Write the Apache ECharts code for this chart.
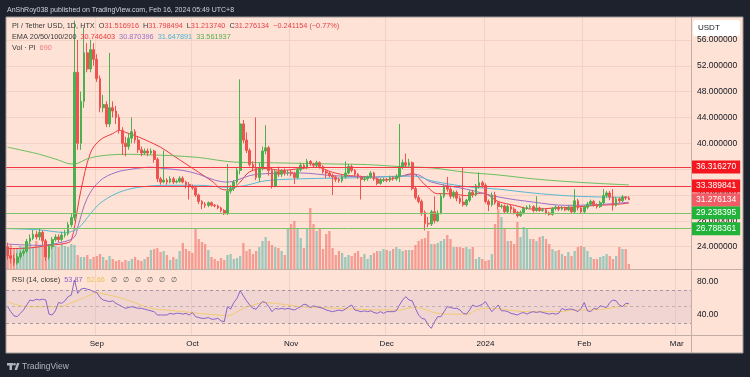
<!DOCTYPE html>
<html>
<head>
<meta charset="utf-8">
<title>PI / Tether USD, 1D</title>
<script src="https://cdn.jsdelivr.net/npm/echarts@6/dist/echarts.min.js"></script>
<style>
  html, body { margin: 0; padding: 0; background: #1e222d; }
  #chart { width: 750px; height: 377px; }
</style>
</head>
<body>
<div id="chart"></div>
<script>
// daily candles from 2023-08-04 to 2024-02-15: [open, close, low, high]
const candles = [
  [24.0, 22.6, 22.0, 24.6], [22.6, 22.2, 21.4, 23.6], [22.2, 21.5, 21.0, 22.8], [21.5, 22.4, 21.2, 23.0],
  [22.4, 23.0, 22.0, 23.4], [23.0, 23.3, 22.6, 23.8], [23.3, 24.8, 23.0, 25.2], [24.8, 25.3, 24.4, 25.9],
  [25.3, 25.9, 25.0, 26.6], [25.9, 25.5, 25.1, 26.4], [25.5, 26.2, 25.0, 26.9], [26.2, 24.9, 24.2, 26.5],
  [24.9, 22.4, 21.8, 25.2], [22.4, 24.0, 22.0, 24.4], [24.0, 25.1, 23.6, 25.5], [25.1, 25.5, 24.8, 25.9],
  [25.5, 25.1, 24.7, 25.9], [25.1, 25.8, 24.8, 26.3], [25.8, 26.0, 25.4, 26.6], [26.0, 27.4, 25.7, 27.8],
  [27.4, 28.5, 27.0, 29.2], [28.5, 51.0, 28.0, 59.0], [51.0, 40.0, 39.0, 56.0], [40.0, 46.5, 39.0, 48.0],
  [46.5, 54.0, 45.5, 58.0], [54.0, 51.5, 51.0, 55.5], [51.5, 54.5, 51.0, 56.0], [54.5, 53.0, 52.0, 55.5],
  // Sep
  [53.0, 50.0, 49.5, 53.8], [50.0, 45.5, 44.8, 50.5], [45.5, 46.0, 44.8, 47.5], [46.0, 43.0, 42.5, 46.5],
  [43.0, 45.5, 42.5, 54.0], [45.5, 45.0, 44.0, 46.5], [45.0, 44.0, 43.0, 45.8], [44.0, 42.0, 41.5, 44.5],
  [42.0, 40.0, 38.2, 42.5], [40.0, 39.5, 38.0, 41.0], [39.5, 40.8, 39.0, 41.5], [40.8, 41.8, 40.0, 44.0],
  [41.8, 40.5, 40.0, 42.2], [40.5, 39.0, 38.5, 41.0], [39.0, 38.5, 38.0, 39.5], [38.5, 38.8, 38.2, 39.2],
  [38.8, 38.5, 38.0, 39.2], [38.5, 38.8, 38.2, 39.2], [38.8, 37.5, 37.0, 39.0], [37.5, 34.5, 34.0, 37.8],
  [34.5, 34.0, 33.6, 34.8], [34.0, 34.3, 33.8, 38.9], [34.3, 34.0, 33.6, 34.6], [34.0, 34.5, 33.8, 34.9],
  [34.5, 34.0, 33.7, 34.8], [34.0, 34.1, 33.8, 34.4], [34.1, 34.6, 33.9, 34.9], [34.6, 34.0, 33.8, 34.9],
  [34.0, 33.6, 33.0, 34.2], [33.6, 33.3, 31.3, 34.0],
  // Oct
  [33.3, 33.1, 32.8, 33.6], [33.1, 32.0, 31.7, 33.3], [32.0, 31.0, 30.6, 32.2], [31.0, 30.6, 29.8, 31.2],
  [30.6, 30.4, 30.0, 30.9], [30.4, 30.8, 30.1, 31.0], [30.8, 30.4, 30.2, 31.0], [30.4, 30.3, 30.1, 30.6],
  [30.3, 30.0, 29.8, 30.5], [30.0, 29.6, 29.3, 30.2], [29.6, 29.1, 28.9, 29.8], [29.1, 32.6, 28.9, 36.8],
  [32.6, 33.0, 32.2, 33.5], [33.0, 34.0, 32.6, 34.3], [34.0, 35.8, 33.6, 36.2], [35.8, 43.0, 35.2, 49.9],
  [43.0, 40.5, 40.0, 43.6], [40.5, 38.9, 38.5, 41.7], [38.9, 36.7, 36.4, 39.2], [36.7, 36.2, 35.8, 37.2],
  [36.2, 34.7, 34.3, 44.0], [34.7, 36.2, 34.0, 37.0], [36.2, 38.8, 35.8, 39.5], [38.8, 39.3, 38.3, 42.8],
  [39.3, 35.8, 35.0, 39.6], [35.8, 33.4, 33.0, 36.3], [33.4, 35.6, 33.2, 36.0], [35.6, 35.2, 34.8, 36.4],
  [35.2, 35.7, 34.8, 36.0], [35.7, 35.4, 35.0, 36.1], [35.4, 35.5, 35.0, 35.9],
  // Nov
  [35.5, 35.3, 34.9, 35.9], [35.3, 34.7, 33.7, 35.6], [34.7, 35.9, 34.5, 36.2], [35.9, 36.6, 35.6, 37.0],
  [36.6, 36.3, 36.0, 36.9], [36.3, 37.2, 36.0, 37.6], [37.2, 36.8, 36.5, 37.4], [36.8, 36.6, 36.3, 37.0],
  [36.6, 37.0, 36.3, 37.3], [37.0, 36.4, 36.1, 37.2], [36.4, 35.6, 35.3, 36.6], [35.6, 35.4, 34.6, 35.9],
  [35.4, 35.0, 34.7, 35.7], [35.0, 34.8, 32.0, 35.3], [34.8, 34.4, 34.0, 35.0], [34.4, 34.2, 33.9, 34.7],
  [34.2, 34.8, 33.9, 35.1], [34.8, 35.4, 34.5, 37.2], [35.4, 36.4, 35.2, 36.8], [36.4, 35.8, 35.5, 36.7],
  [35.8, 35.2, 34.9, 36.0], [35.2, 34.8, 34.5, 35.4], [34.8, 34.4, 31.3, 35.0], [34.4, 34.5, 34.1, 34.8],
  [34.5, 34.8, 34.2, 35.0], [34.8, 35.4, 34.5, 35.7], [35.4, 34.5, 34.2, 35.6], [34.5, 33.8, 33.5, 34.7],
  [33.8, 34.3, 33.6, 34.6], [34.3, 34.4, 34.0, 34.7],
  // Dec
  [34.4, 34.3, 34.0, 34.6], [34.3, 34.7, 34.0, 35.0], [34.7, 34.5, 34.2, 34.9], [34.5, 34.9, 34.2, 35.2],
  [34.9, 36.4, 34.0, 43.0], [36.4, 37.0, 36.0, 37.5], [37.0, 36.6, 36.3, 38.4], [36.6, 37.0, 36.4, 37.6],
  [37.0, 33.0, 32.7, 37.2], [33.0, 31.6, 31.3, 33.4], [31.6, 31.0, 30.7, 32.0], [31.0, 29.3, 28.8, 31.3],
  [29.3, 27.6, 26.5, 29.6], [27.6, 27.5, 27.0, 28.6], [27.5, 29.4, 27.2, 29.7], [29.4, 28.0, 27.6, 31.8],
  [28.0, 29.2, 27.8, 29.6], [29.2, 31.8, 29.0, 32.2], [31.8, 33.3, 31.5, 33.6], [33.3, 32.9, 32.5, 34.8],
  [32.9, 31.8, 31.4, 33.2], [31.8, 32.4, 31.5, 32.7], [32.4, 31.5, 31.0, 32.7], [31.5, 30.9, 30.6, 31.8],
  [30.9, 30.5, 30.2, 36.3], [30.5, 31.2, 30.2, 31.4], [31.2, 32.4, 30.9, 32.7], [32.4, 32.0, 31.6, 32.8],
  [32.0, 33.4, 31.8, 33.7], [33.4, 33.9, 33.0, 35.5], [33.9, 33.5, 33.1, 34.2],
  // Jan
  [33.5, 31.0, 30.7, 33.8], [31.0, 30.5, 29.5, 31.3], [30.5, 32.0, 30.2, 32.4], [32.0, 30.8, 30.5, 32.5],
  [30.8, 30.2, 29.8, 31.0], [30.2, 30.3, 29.9, 30.6], [30.3, 29.4, 29.1, 30.5], [29.4, 30.2, 29.2, 30.5],
  [30.2, 29.8, 29.2, 30.5], [29.8, 29.3, 29.0, 30.1], [29.3, 28.8, 28.5, 29.5], [28.8, 29.3, 28.6, 29.6],
  [29.3, 29.9, 29.0, 30.2], [29.9, 30.1, 29.7, 30.4], [30.1, 30.2, 29.8, 30.5], [30.2, 29.6, 29.3, 30.4],
  [29.6, 30.0, 29.4, 31.8], [30.0, 29.6, 29.4, 30.2], [29.6, 29.7, 29.4, 30.0], [29.7, 29.2, 29.0, 29.9],
  [29.2, 29.0, 28.8, 29.4], [29.0, 29.9, 28.8, 30.1], [29.9, 30.1, 29.6, 30.4], [30.1, 29.8, 29.5, 30.3],
  [29.8, 30.0, 29.6, 30.3], [30.0, 29.7, 29.5, 30.2], [29.7, 30.1, 29.5, 30.4], [30.1, 29.4, 29.1, 30.2],
  [29.4, 31.1, 29.1, 32.9], [31.1, 30.0, 29.6, 31.4], [30.0, 29.4, 29.1, 30.2],
  // Feb
  [29.4, 30.1, 29.2, 30.4], [30.1, 30.6, 29.8, 30.9], [30.6, 31.0, 30.3, 31.3], [31.0, 30.5, 30.2, 31.2],
  [30.5, 30.2, 29.9, 30.7], [30.2, 30.8, 30.0, 31.1], [30.8, 31.9, 30.6, 32.9], [31.9, 32.3, 31.6, 32.6],
  [32.3, 31.7, 31.2, 32.6], [31.7, 30.4, 29.6, 32.9], [30.4, 31.4, 30.2, 31.7], [31.4, 31.1, 30.8, 31.6],
  [31.1, 31.7, 30.9, 32.0], [31.7, 31.52, 31.2, 31.8], [31.516916, 31.276134, 31.21374, 31.798494]
]

// volume bar heights (same days)
const volumes = [
  22, 24, 20, 21, 23, 22, 24, 26, 22, 28, 24, 22, 20, 25, 24, 23, 22, 25, 23, 22, 25,
  24, 14, 12, 12, 14, 10, 12, 13, 15, 12, 9, 13, 10, 8, 9, 7, 9, 8, 10, 12, 9, 8,
  10, 12, 19, 20, 21, 17, 18, 14, 9, 12, 10, 18, 26, 20, 18, 16, 40, 30, 27, 25, 19,
  12, 10, 8, 11, 9, 14, 15, 10, 11, 13, 26, 18, 20, 15, 18, 22, 28, 32, 28, 24, 22,
  21, 18, 14, 40, 45, 48, 41, 31, 21, 40, 61, 45, 38, 40, 20, 35, 38, 21, 14, 18, 16, 12, 14,
  13, 16, 18, 12, 15, 10, 14, 16, 18, 18, 20, 19, 18, 20, 22, 20, 18, 19, 19, 19, 24, 28, 30,
  31, 38, 25, 25, 26, 28, 30, 34, 30, 22, 22, 22, 21, 22, 20, 22, 10, 12, 10, 8, 9, 15, 45,
  60, 52, 40, 28, 28, 25, 47, 32, 42, 40, 30, 30, 28, 32, 33, 30, 25, 20, 18, 19, 15, 13,
  17, 13, 18, 22, 23, 22, 18, 12, 10, 10, 12, 13, 15, 13, 10, 13, 22, 20, 20, 5
]

// RSI(14) per day
const rsiValues = [
  50, 44, 39, 38, 42, 46, 52, 58, 57, 59, 58, 59, 58, 41, 40, 45, 55, 54, 57, 62, 64,
  82, 66, 71, 72, 71, 70, 68, 67, 61, 58, 57, 56, 57, 54, 52, 50, 48, 49, 50, 49, 48,
  48, 47, 46, 45, 44, 40, 40, 40, 40, 42, 41, 42, 42, 41, 42, 40, 43, 38, 37, 36, 36,
  37, 35, 35, 36, 33, 32, 50, 47, 55, 60, 69, 63, 57, 52, 48, 47, 52, 56, 55, 50, 44,
  48, 47, 48, 47, 48, 47, 46, 48, 50, 53, 52, 49, 51, 50, 49, 48, 46, 45, 44, 45, 46,
  45, 47, 50, 52, 46, 45, 44, 45, 44, 45, 43, 42, 44, 42, 44, 44, 44, 45, 52, 58, 62,
  58, 57, 48, 40, 36, 35, 28, 24, 32, 38, 38, 44, 50, 49, 48, 48, 46, 42, 41, 46, 52,
  50, 51, 53, 56, 50, 44, 48, 52, 45, 45, 44, 42, 41, 40, 42, 43, 41, 43, 44, 43, 44,
  43, 42, 41, 42, 41, 42, 48, 46, 47, 47, 46, 44, 48, 55, 45, 44, 48, 47, 51, 50, 49,
  55, 58, 57, 52, 50, 54, 53.87
]

// smoothed lines read at sample days: [dayIndex, value]
const rsiMaPts = [
  [0, 56], [3, 52], [7, 50], [16, 50], [19, 53], [26, 64], [28, 67], [29, 66.3], [34, 62],
  [39, 56], [45, 48], [50, 46], [55, 44], [60, 42], [66, 40], [69, 39], [73, 46], [77, 52],
  [81, 54.9], [86, 53], [92, 50], [98, 49], [104, 48], [110, 47], [117, 46], [123, 46],
  [127, 49], [130, 48], [135, 42], [140, 41], [144, 41], [148, 47], [152, 48], [157, 46],
  [163, 44], [168, 44], [173, 44], [178, 46], [183, 46], [189, 48], [195, 52.66]
]
const ema20Pts = [
  [0, 23.7], [7, 23.8], [13, 24.2], [18, 24.5], [20, 25.0], [22, 30.0], [23, 32.7], [26, 38.5],
  [29, 40.5], [33, 41.5], [35, 42.0], [37, 41.7], [41, 41.0], [48, 39.4], [52, 38.1], [56, 36.8],
  [60, 35.5], [64, 34.2], [68, 32.8], [70, 32.8], [73, 34.0], [76, 35.6], [81, 36.1], [86, 35.8],
  [92, 36.1], [97, 36.3], [102, 35.5], [107, 35.0], [113, 34.8], [118, 34.3], [123, 34.8],
  [127, 35.3], [131, 33.6], [135, 32.2], [139, 32.2], [144, 31.9], [149, 32.3], [154, 31.0],
  [159, 30.4], [165, 29.8], [172, 30.0], [177, 30.1], [185, 30.4], [190, 30.5], [195, 30.746403]
]
const ema50Pts = [
  [0, 24.4], [10, 24.2], [18, 24.8], [21, 25.5], [22, 27.0], [25, 31.5], [29, 34.2], [34, 35.5],
  [39, 36.0], [45, 36.3], [49, 36.1], [55, 35.8], [60, 35.2], [65, 34.3], [69, 34.0], [72, 34.3],
  [76, 35.0], [81, 35.3], [92, 35.4], [102, 35.0], [113, 34.8], [123, 34.9], [128, 35.2],
  [133, 34.0], [144, 32.9], [154, 31.7], [165, 30.9], [175, 30.4], [185, 30.5], [195, 30.870396]
]
const ema100Pts = [
  [0, 26.8], [10, 26.6], [18, 26.2], [22, 26.8], [26, 29.1], [29, 30.7], [34, 32.2], [39, 33.0],
  [45, 33.4], [50, 33.5], [60, 33.5], [69, 33.2], [74, 33.4], [81, 34.2], [92, 34.5], [102, 34.6],
  [113, 34.7], [123, 34.9], [128, 34.9], [133, 34.2], [144, 33.3], [154, 32.9], [165, 32.3],
  [175, 31.9], [185, 31.7], [195, 31.647891]
]
const ema200Pts = [
  [0, 39.4], [10, 38.3], [16, 37.4], [20, 36.8], [22, 36.9], [25, 37.6], [30, 38.1], [38, 38.3],
  [45, 38.2], [51, 38.1], [60, 37.8], [71, 37.1], [81, 37.0], [92, 36.9], [102, 36.8], [113, 36.7],
  [123, 36.4], [133, 36.2], [144, 35.5], [154, 35.1], [165, 34.5], [175, 34.1], [185, 33.8],
  [195, 33.561937]
]

const redLevels = [36.31627, 33.389841]
const greenLevels = [29.238395, 26.788361]
const lastPrice = 31.276134
const monthNames = ['Jan', 'Feb', 'Mar', 'Apr', 'May', 'Jun', 'Jul', 'Aug', 'Sep', 'Oct', 'Nov', 'Dec']

// category days, Aug 4 2023 up to Mar 5 2024 (empty space on the right)
const dates = []
for (let i = 0; i < 215; i++) {
  const d = new Date(Date.UTC(2023, 7, 4 + i))
  dates.push(d.toISOString().slice(0, 10))
}

const isMonthStart = (idx, v) => v.slice(8) === '01'
const monthLabel = v => {
  const m = +v.slice(5, 7)
  return m === 1 ? v.slice(0, 4) : monthNames[m - 1]
}

const UP = '#4caf50'
const DOWN = '#ef5350'
const GRID_LINE = '#f3d1c3'
const FONT = 'Liberation Sans'

const volumeData = volumes.map((v, i) => ({
  value: v,
  itemStyle: {
    color: candles[i][1] >= candles[i][0] ? 'rgba(38, 166, 154, 0.45)' : 'rgba(239, 83, 80, 0.5)'
  }
}))

function levelLine(value, color, boxColor) {
  return {
    yAxis: value,
    lineStyle: { color: color, width: 1, type: 'solid' },
    label: {
      show: true,
      position: 'end',
      distance: 1,
      formatter: value.toFixed(6),
      color: '#ffffff',
      backgroundColor: boxColor,
      padding: [2, 4, 2, 4],
      fontSize: 8.5,
      fontFamily: FONT
    }
  }
}

const chart = echarts.init(document.getElementById('chart'))

const splitColors = [
  'rgba(0,0,0,0)', GRID_LINE, GRID_LINE, GRID_LINE, GRID_LINE, GRID_LINE,
  GRID_LINE, GRID_LINE, GRID_LINE, GRID_LINE, 'rgba(0,0,0,0)'
]

const option = {
  animation: false,
  backgroundColor: '#fde2d5',
  textStyle: { fontFamily: FONT },
  grid: [
    { left: 6, top: 14.1, width: 685, height: 258.4 },
    { left: 6, top: 169, width: 685, height: 100 },
    { left: 6, top: 269, width: 685, height: 66 }
  ],
  xAxis: [
    {
      type: 'category', gridIndex: 0, data: dates,
      axisLine: { show: false }, axisTick: { show: false }, axisLabel: { show: false },
      splitLine: { show: true, interval: isMonthStart, lineStyle: { color: GRID_LINE } }
    },
    {
      type: 'category', gridIndex: 1, data: dates, show: false
    },
    {
      type: 'category', gridIndex: 2, data: dates,
      axisLine: { show: false }, axisTick: { show: false },
      axisLabel: {
        interval: isMonthStart, formatter: monthLabel,
        color: '#131722', fontSize: 8, margin: 5
      },
      splitLine: { show: true, interval: isMonthStart, lineStyle: { color: GRID_LINE } }
    }
  ],
  yAxis: [
    {
      type: 'value', gridIndex: 0, position: 'right', min: 20, max: 60, interval: 4,
      axisLine: { show: false }, axisTick: { show: false },
      axisLabel: {
        color: '#131722', fontSize: 8.5, margin: 6,
        formatter: v => (v === 20 || v === 60) ? '' : v.toFixed(6)
      },
      splitLine: { lineStyle: { color: splitColors } }
    },
    {
      type: 'value', gridIndex: 1, min: 0, max: 100, show: false
    },
    {
      type: 'value', gridIndex: 2, position: 'right', min: 16, max: 95.2,
      axisLine: { show: false }, axisTick: { show: false },
      axisLabel: {
        customValues: [40, 80], color: '#131722', fontSize: 8.5, margin: 6,
        formatter: v => v.toFixed(2)
      },
      splitLine: { show: false }
    }
  ],
  series: [
    {
      name: 'Volume', type: 'bar', xAxisIndex: 1, yAxisIndex: 1,
      data: volumeData, barWidth: '72%', z: 1
    },
    {
      name: 'PI', type: 'candlestick', xAxisIndex: 0, yAxisIndex: 0,
      data: candles, barWidth: 2.2, z: 4,
      itemStyle: { color: UP, color0: DOWN, borderColor: UP, borderColor0: DOWN, borderWidth: 1 },
      markLine: {
        silent: true, symbol: 'none', animation: false,
        data: [
          levelLine(redLevels[0], '#f23645', '#f5171f'),
          levelLine(redLevels[1], '#f23645', '#f5171f'),
          levelLine(greenLevels[0], '#7cc36a', '#22b33a'),
          levelLine(greenLevels[1], '#7cc36a', '#22b33a'),
          levelLine(lastPrice, 'rgba(242, 54, 69, 0)', '#f25c66')
        ]
      }
    },
    {
      name: 'EMA20', type: 'line', xAxisIndex: 0, yAxisIndex: 0, data: ema20Pts,
      smooth: 0.35, showSymbol: false, lineStyle: { color: '#f0393f', width: 1 }, z: 3
    },
    {
      name: 'EMA50', type: 'line', xAxisIndex: 0, yAxisIndex: 0, data: ema50Pts,
      smooth: 0.35, showSymbol: false, lineStyle: { color: '#9b6fc8', width: 1 }, z: 3
    },
    {
      name: 'EMA100', type: 'line', xAxisIndex: 0, yAxisIndex: 0, data: ema100Pts,
      smooth: 0.35, showSymbol: false, lineStyle: { color: '#5bb8d4', width: 1 }, z: 3
    },
    {
      name: 'EMA200', type: 'line', xAxisIndex: 0, yAxisIndex: 0, data: ema200Pts,
      smooth: 0.35, showSymbol: false, lineStyle: { color: '#6cbf5f', width: 1 }, z: 3
    },
    {
      name: 'RSI', type: 'line', xAxisIndex: 2, yAxisIndex: 2, data: rsiValues,
      showSymbol: false, lineStyle: { color: '#8a63c9', width: 1 }, z: 4,
      markArea: {
        silent: true,
        itemStyle: { color: 'rgba(126, 87, 194, 0.09)' },
        data: [[{ yAxis: 30 }, { yAxis: 70 }]]
      },
      markLine: {
        silent: true, symbol: 'none', label: { show: false },
        data: [
          { yAxis: 70, lineStyle: { color: '#a2979f', type: [3, 3], width: 1 } },
          { yAxis: 50, lineStyle: { color: 'rgba(162, 151, 159, 0.6)', type: [3, 3], width: 1 } },
          { yAxis: 30, lineStyle: { color: '#a2979f', type: [3, 3], width: 1 } }
        ]
      }
    },
    {
      name: 'RSI MA', type: 'line', xAxisIndex: 2, yAxisIndex: 2, data: rsiMaPts,
      smooth: 0.4, showSymbol: false, lineStyle: { color: 'rgba(240, 200, 90, 0.8)', width: 1 }, z: 3
    }
  ],
  graphic: [
    // dark frame around the panel
    { type: 'rect', shape: { x: 0, y: 0, width: 750, height: 17 }, style: { fill: '#1e222d' }, z: 100 },
    { type: 'rect', shape: { x: 0, y: 353, width: 750, height: 24 }, style: { fill: '#1e222d' }, z: 100 },
    { type: 'rect', shape: { x: 0, y: 0, width: 6, height: 377 }, style: { fill: '#1e222d' }, z: 100 },
    { type: 'rect', shape: { x: 743, y: 0, width: 7, height: 377 }, style: { fill: '#1e222d' }, z: 100 },
    { type: 'rect', shape: { x: 6, y: 17, width: 737, height: 336 }, style: { fill: 'none', stroke: '#9d9a9a', lineWidth: 1 }, z: 101 },
    // pane separators
    { type: 'line', shape: { x1: 6, y1: 269.5, x2: 743, y2: 269.5 }, style: { stroke: '#c3aea6', lineWidth: 1 }, z: 90 },
    { type: 'line', shape: { x1: 6, y1: 335.5, x2: 743, y2: 335.5 }, style: { stroke: '#c3aea6', lineWidth: 1 }, z: 90 },
    { type: 'line', shape: { x1: 691.5, y1: 17, x2: 691.5, y2: 353 }, style: { stroke: '#c3aea6', lineWidth: 1 }, z: 90 },
    // currency box
    { type: 'rect', shape: { x: 693, y: 20, width: 47, height: 16, r: 2 }, style: { fill: '#ffffff' }, z: 95 },
    { type: 'text', x: 698, y: 28, style: { text: 'USDT', fill: '#131722', font: '8px "Liberation Sans"', verticalAlign: 'middle' }, z: 96 },
    // publisher line
    {
      type: 'text', x: 7, y: 10, z: 110,
      style: { text: 'AnShRoy038 published on TradingView.com, Feb 16, 2024 05:49 UTC+8', fill: '#d1d4dc', font: '7px "Liberation Sans"', verticalAlign: 'middle' }
    },
    // legend lines
    {
      type: 'text', x: 12, y: 26, z: 60,
      style: {
        text: '{d|PI / Tether USD, 1D, HTX  O}{r|31.516916}{d|  H}{r|31.798494}{d|  L}{r|31.213740}{d|  C}{r|31.276134  \u22120.241154 (\u22120.77%)}',
        verticalAlign: 'middle',
        rich: {
          d: { fill: '#3a3a3a', font: '7.3px "Liberation Sans"' },
          r: { fill: '#e8414a', font: '7.3px "Liberation Sans"' }
        }
      }
    },
    {
      type: 'text', x: 12, y: 37, z: 60,
      style: {
        text: '{d|EMA 20/50/100/200  }{a|30.746403}{d|  }{b|30.870396}{d|  }{c|31.647891}{d|  }{e|33.561937}',
        verticalAlign: 'middle',
        rich: {
          d: { fill: '#3a3a3a', font: '7.3px "Liberation Sans"' },
          a: { fill: '#f0393f', font: '7.3px "Liberation Sans"' },
          b: { fill: '#9b6fc8', font: '7.3px "Liberation Sans"' },
          c: { fill: '#4fb3d0', font: '7.3px "Liberation Sans"' },
          e: { fill: '#5bb04f', font: '7.3px "Liberation Sans"' }
        }
      }
    },
    {
      type: 'text', x: 12, y: 47.5, z: 60,
      style: {
        text: '{d|Vol \u00b7 PI  }{r|690}',
        verticalAlign: 'middle',
        rich: {
          d: { fill: '#3a3a3a', font: '7.3px "Liberation Sans"' },
          r: { fill: '#f07b7b', font: '7.3px "Liberation Sans"' }
        }
      }
    },
    {
      type: 'text', x: 12, y: 280, z: 60,
      style: {
        text: '{d|RSI (14, close)  }{p|53.87}{d|  }{y|52.66}{g|   \u2205   \u2205   \u2205   \u2205   \u2205   \u2205}',
        verticalAlign: 'middle',
        rich: {
          d: { fill: '#3a3a3a', font: '7.3px "Liberation Sans"' },
          p: { fill: '#8a63c9', font: '7.3px "Liberation Sans"' },
          y: { fill: '#e8c25a', font: '7.3px "Liberation Sans"' },
          g: { fill: '#555555', font: '7.3px "Liberation Sans"' }
        }
      }
    },
    // TradingView mark
    { type: 'rect', shape: { x: 7, y: 363, width: 6, height: 2.5 }, style: { fill: '#b2b5be' }, z: 110 },
    { type: 'rect', shape: { x: 9.5, y: 363, width: 2.5, height: 7 }, style: { fill: '#b2b5be' }, z: 110 },
    { type: 'circle', shape: { cx: 14.5, cy: 364.3, r: 1.3 }, style: { fill: '#b2b5be' }, z: 110 },
    { type: 'polygon', shape: { points: [[14.5, 370], [17, 363], [19.5, 363], [17, 370]] }, style: { fill: '#b2b5be' }, z: 110 },
    {
      type: 'text', x: 22, y: 367, z: 110,
      style: { text: 'TradingView', fill: '#b2b5be', font: '8.5px "Liberation Sans"', verticalAlign: 'middle' }
    }
  ]
}

chart.setOption(option)
window.addEventListener('resize', () => chart.resize())
</script>
</body>
</html>
